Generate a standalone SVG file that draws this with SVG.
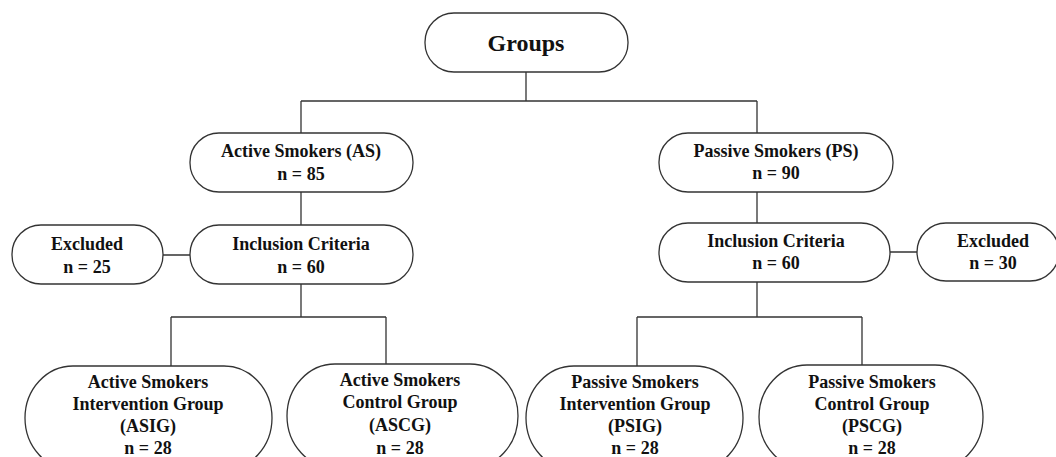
<svg xmlns="http://www.w3.org/2000/svg" width="1056" height="457" viewBox="0 0 1056 457">
<style>
.n{fill:#fff;stroke:#333;stroke-width:1.3}
.c{fill:none;stroke:#333;stroke-width:1.3}
text{font-family:"Liberation Serif","Times New Roman",serif;font-weight:bold;font-size:18px;fill:#111;text-anchor:middle}
.big{font-size:24px}
</style>
<rect width="1056" height="457" fill="#fff"/>
<g id="connectors">
<path class="c" d="M526 72V101M301 101H757M301 101V133M757 101V133"/>
<path class="c" d="M301 192V225M757 192V223"/>
<path class="c" d="M163 255H190M890 252H917"/>
<path class="c" d="M301 284V317M171 317H386M171 317V367M386 317V364"/>
<path class="c" d="M757 282V317M637 317H862M637 317V366M862 317V365"/>
</g>
<g id="groups">
<rect class="n" x="425" y="13" width="203" height="59" rx="29" ry="29"/>
<text class="big" x="526" y="51">Groups</text>
</g>
<g id="as">
<rect class="n" x="190" y="133" width="223" height="59" rx="29" ry="29"/>
<text x="301" y="157">Active Smokers (AS)</text>
<text x="301" y="180">n = 85</text>
</g>
<g id="ps">
<rect class="n" x="659" y="133" width="234" height="59" rx="29" ry="29"/>
<text x="776" y="157">Passive Smokers (PS)</text>
<text x="776" y="179">n = 90</text>
</g>
<g id="as-incl">
<rect class="n" x="190" y="225" width="223" height="59" rx="29" ry="29"/>
<text x="301" y="250">Inclusion Criteria</text>
<text x="301" y="273">n = 60</text>
</g>
<g id="as-excl">
<rect class="n" x="12" y="225" width="151" height="59" rx="29" ry="29"/>
<text x="87" y="250">Excluded</text>
<text x="87" y="273">n = 25</text>
</g>
<g id="ps-incl">
<rect class="n" x="659" y="223" width="231" height="59" rx="29" ry="29"/>
<text x="776" y="247">Inclusion Criteria</text>
<text x="776" y="269">n = 60</text>
</g>
<g id="ps-excl">
<rect class="n" x="917" y="223" width="142" height="58" rx="29" ry="29"/>
<text x="993" y="247">Excluded</text>
<text x="993" y="269">n = 30</text>
</g>
<g id="asig">
<rect class="n" x="25" y="366" width="247" height="104" rx="48" ry="52"/>
<text x="148" y="388">Active Smokers</text>
<text x="148" y="410">Intervention Group</text>
<text x="148" y="432">(ASIG)</text>
<text x="148" y="454">n = 28</text>
</g>
<g id="ascg">
<rect class="n" x="287" y="364" width="231" height="104" rx="48" ry="52"/>
<text x="400" y="386">Active Smokers</text>
<text x="400" y="408">Control Group</text>
<text x="400" y="431">(ASCG)</text>
<text x="400" y="454">n = 28</text>
</g>
<g id="psig">
<rect class="n" x="526" y="366" width="217" height="104" rx="48" ry="52"/>
<text x="635" y="388">Passive Smokers</text>
<text x="635" y="410">Intervention Group</text>
<text x="635" y="432">(PSIG)</text>
<text x="635" y="454">n = 28</text>
</g>
<g id="pscg">
<rect class="n" x="759" y="365" width="224" height="104" rx="48" ry="52"/>
<text x="872" y="388">Passive Smokers</text>
<text x="872" y="410">Control Group</text>
<text x="872" y="432">(PSCG)</text>
<text x="872" y="454">n = 28</text>
</g>
</svg>
